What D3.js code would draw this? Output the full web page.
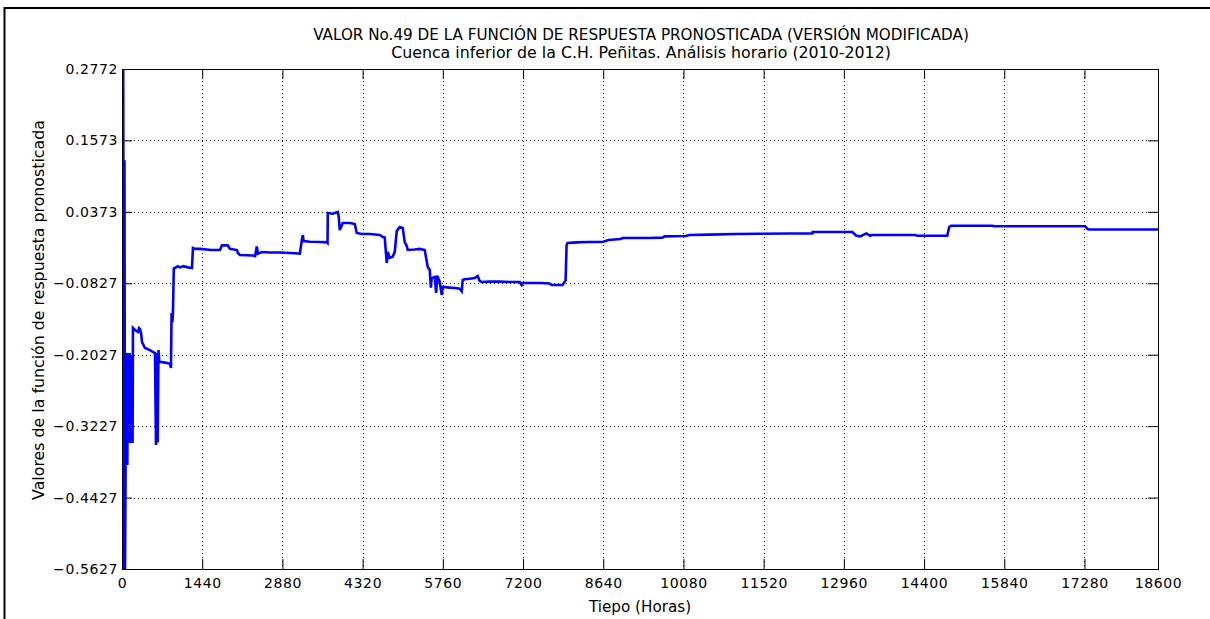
<!DOCTYPE html>
<html>
<head>
<meta charset="utf-8">
<script src="https://cdn.jsdelivr.net/npm/d3@7"></script>
<style>
  body { margin: 0; background: #fff; }
  svg text { font-family: "DejaVu Sans", sans-serif; fill: #000; }
</style>
</head>
<body>
<svg id="chart" width="1210" height="619"></svg>
<script>
// Hourly forecast response function value No.49 (modified version)
const hours = [
  0, 22, 34, 44, 54, 64, 72, 80, 88, 96, 104, 112, 120, 128, 136, 144, 152, 160, 168, 176,
  184, 190,
  197, 233, 287, 305, 323, 345, 359, 413, 500, 560, 592, 610, 625, 640, 655, 670, 700,
  771, 861, 879, 890, 905, 915, 930, 950, 1000, 1040, 1100, 1180, 1256, 1274, 1309,
  1400, 1600, 1760, 1794, 1900, 1937, 2063, 2081, 2117, 2350, 2390, 2420, 2440, 2511,
  2655, 2834, 3013, 3193, 3229, 3247, 3260, 3372, 3552, 3677, 3690, 3695, 3785, 3875,
  3890, 3910, 3964, 4090, 4179, 4215, 4305, 4448, 4628, 4682, 4717, 4753, 4771, 4807,
  4861, 4897, 4933, 4986, 5040, 5076, 5112, 5130, 5256, 5345, 5435, 5489, 5525, 5545,
  5560, 5614, 5640, 5660, 5704, 5740, 5758, 5883, 5973, 6063, 6099, 6117, 6152, 6242,
  6332, 6386, 6421, 6457, 6601, 6780, 6960, 7139, 7175, 7193, 7318, 7498, 7677, 7713,
  7856, 7910, 7964, 7982, 8000, 8161, 8394, 8628, 8735, 8951, 8986, 9471, 9704, 9740,
  10117, 10189, 10548, 11050, 11444, 11983, 12394, 12400, 12700, 13112, 13184, 13256,
  13364, 13435, 13453, 13955, 14242, 14277, 14816, 14852, 14888, 15623, 15659, 16646,
  17291, 17327, 17363, 18600
];
const values = [
  -0.5627, 0.2772, -0.5627, 0.1240, -0.5627, -0.4000, -0.2150, -0.3600, -0.2000, -0.3880,
  -0.2200, -0.3300, -0.2050, -0.3000, -0.2000, -0.3510, -0.2200, -0.3000, -0.2050, -0.3510,
  -0.2150, -0.3510,
  -0.1579, -0.1612, -0.1646, -0.1580, -0.1595, -0.1680, -0.1814, -0.1915, -0.1950, -0.1982,
  -0.2000, -0.3544, -0.2000, -0.3500, -0.1950, -0.2150, -0.2150,
  -0.2160, -0.2180, -0.2251, -0.1327, -0.1480, -0.1300, -0.0580, -0.0571, -0.0540, -0.0560,
  -0.0540, -0.0560, -0.0571, -0.0235, -0.0250,
  -0.0250, -0.0268, -0.0268, -0.0190, -0.0190, -0.0250, -0.0270, -0.0319, -0.0352, -0.0360,
  -0.0370, -0.0210, -0.0330, -0.0302,
  -0.0310, -0.0310, -0.0319, -0.0330, -0.0101, -0.0017, -0.0120, -0.0130, -0.0134, -0.0140,
  -0.0151, 0.0353, 0.0340, 0.0370,
  0.0300, 0.0067, 0.0185, 0.0185, 0.0168, 0.0017, 0.0000, 0.0000, -0.0017, -0.0050, -0.0060,
  -0.0487, -0.0300, -0.0400,
  -0.0380, -0.0300, 0.0050, 0.0118, 0.0100, -0.0134, -0.0200, -0.0268, -0.0260, -0.0250,
  -0.0270, -0.0554, -0.0604, -0.0900,
  -0.0740, -0.0722, -0.0990, -0.0700, -0.0800, -0.1024, -0.0890, -0.0900, -0.0907, -0.0920,
  -0.0960, -0.0772, -0.0760, -0.0750,
  -0.0740, -0.0705, -0.0790, -0.0806, -0.0800, -0.0800, -0.0806, -0.0806, -0.0856, -0.0823,
  -0.0823, -0.0823, -0.0830, -0.0856,
  -0.0856, -0.0856, -0.0780, -0.0185, -0.0151, -0.0140, -0.0134, -0.0134, -0.0101, -0.0084,
  -0.0067, -0.0067, -0.0060, -0.0040,
  -0.0033, -0.0017, -0.0010, 0.0000, 0.0005, 0.0008, 0.0010, 0.0034, 0.0034, 0.0034,
  -0.0030, -0.0040,
  0.0010, -0.0030, -0.0017, -0.0017, -0.0017, -0.0030, -0.0030, 0.0118, 0.0140, 0.0140,
  0.0130, 0.0130,
  0.0130, 0.0090, 0.0076, 0.0076
];

const xTicks = [0, 1440, 2880, 4320, 5760, 7200, 8640, 10080, 11520, 12960, 14400, 15840, 17280, 18600];
const yTicks = [0.2772, 0.1573, 0.0373, -0.0827, -0.2027, -0.3227, -0.4427, -0.5627];
const titleLines = [
  "VALOR No.49 DE LA FUNCIÓN DE RESPUESTA PRONOSTICADA (VERSIÓN MODIFICADA)",
  "Cuenca inferior de la C.H. Peñitas. Análisis horario (2010-2012)"
];
const xLabel = "Tiepo (Horas)";
const yLabel = "Valores de la función de respuesta pronosticada";

const W = 1210, H = 619;
const margin = { left: 122, top: 69, right: 52, bottom: 50 };
const iw = W - margin.left - margin.right;
const ih = H - margin.top - margin.bottom;

const svg = d3.select("#chart");

// outer figure frame (left and top edges visible)
svg.append("path")
  .attr("d", `M4.5,${H + 5} L4.5,8 L${W + 5},8`)
  .attr("fill", "none").attr("stroke", "#000").attr("stroke-width", 2);

const x = d3.scaleLinear().domain([0, 18600]).range([0, iw]);
const y = d3.scaleLinear().domain([-0.5627, 0.2772]).range([ih, 0]);

const g = svg.append("g").attr("transform", `translate(${margin.left},${margin.top})`);

// dotted grid
g.append("g").selectAll("line").data(xTicks.slice(1, -1)).join("line")
  .attr("x1", d => Math.round(x(d)) + 0.5).attr("x2", d => Math.round(x(d)) + 0.5)
  .attr("y1", 0).attr("y2", ih)
  .attr("stroke", "#000").attr("stroke-width", 1).attr("stroke-dasharray", "1,3");
g.append("g").selectAll("line").data(yTicks.slice(1, -1)).join("line")
  .attr("y1", d => Math.round(y(d)) + 0.5).attr("y2", d => Math.round(y(d)) + 0.5)
  .attr("x1", 0).attr("x2", iw)
  .attr("stroke", "#000").attr("stroke-width", 1).attr("stroke-dasharray", "1,3");

// axes with inward ticks on all four sides
const fmtY = d => d3.format(".4f")(d).replace("-", "\u2212");
const tickLen = 10;

const xAxis = d3.axisBottom(x).tickValues(xTicks).tickSize(-tickLen).tickPadding(9).tickFormat(d3.format("d"));
const xAxisTop = d3.axisTop(x).tickValues(xTicks).tickSize(-tickLen).tickFormat("");
const yAxis = d3.axisLeft(y).tickValues(yTicks).tickSize(-tickLen).tickPadding(4).tickFormat(fmtY);
const yAxisRight = d3.axisRight(y).tickValues(yTicks).tickSize(-tickLen).tickFormat("");

function styleAxis(sel) {
  sel.select(".domain").remove();
  sel.selectAll(".tick line").attr("stroke", "#000");
  sel.selectAll(".tick text")
    .style("font-family", "'DejaVu Sans', sans-serif")
    .style("font-size", "14px")
    .style("letter-spacing", "0.6px")
    .attr("fill", "#000");
}

g.append("g").attr("transform", `translate(0,${ih})`).call(xAxis).call(styleAxis);
g.append("g").call(xAxisTop).call(styleAxis);
g.append("g").call(yAxis).call(styleAxis);
g.append("g").attr("transform", `translate(${iw},0)`).call(yAxisRight).call(styleAxis);

// axes box
g.append("rect").attr("x", 0.5).attr("y", 0.5).attr("width", iw).attr("height", ih)
  .attr("fill", "none").attr("stroke", "#000").attr("stroke-width", 1);

// data line, drawn over the axes box
svg.append("defs").append("clipPath").attr("id", "plotclip")
  .append("rect").attr("x", 1).attr("y", 0).attr("width", iw).attr("height", ih + 1);

const pts = hours.map((h, i) => [h, values[i]]);
g.append("path")
  .datum(pts)
  .attr("clip-path", "url(#plotclip)")
  .attr("fill", "none")
  .attr("stroke", "#0000ff")
  .attr("stroke-width", 2.6)
  .attr("stroke-linejoin", "miter")
  .attr("d", d3.line().x(d => x(d[0])).y(d => y(d[1])));

// titles
const titleSizes = [15.2, 15.8];
svg.append("g").selectAll("text").data(titleLines).join("text")
  .attr("x", margin.left + iw / 2 + 1)
  .attr("y", (d, i) => 40 + i * 18)
  .attr("text-anchor", "middle")
  .style("font-size", (d, i) => titleSizes[i] + "px")
  .text(d => d);

svg.append("text")
  .attr("x", margin.left + iw / 2).attr("y", 612)
  .attr("text-anchor", "middle")
  .style("font-size", "15.2px")
  .text(xLabel);

svg.append("text")
  .attr("transform", `translate(44,310) rotate(-90)`)
  .attr("text-anchor", "middle")
  .style("font-size", "15.8px")
  .text(yLabel);
</script>
</body>
</html>
